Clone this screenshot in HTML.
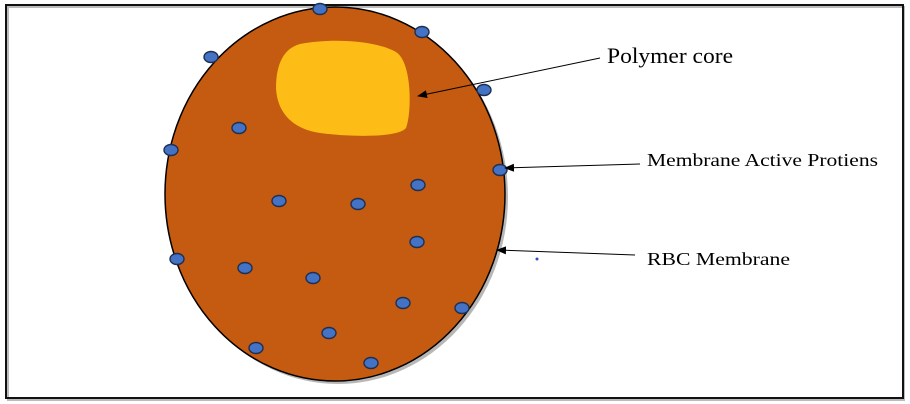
<!DOCTYPE html>
<html><head><style>
body{margin:0;background:#fff;}
svg{display:block}
text{font-family:"Liberation Serif",serif;fill:#000}
</style></head><body>
<svg width="910" height="404" viewBox="0 0 910 404">
<defs><marker id="a" markerWidth="10" markerHeight="8" refX="9" refY="4" orient="auto" markerUnits="userSpaceOnUse"><path d="M0,0 L10,4 L0,8 z" fill="#000"/></marker></defs>
<rect x="8" y="7" width="896" height="393" fill="none" stroke="#bbb" stroke-width="2"/>
<rect x="6" y="5" width="897" height="393" fill="none" stroke="#111" stroke-width="2"/>
<ellipse cx="338" cy="197" rx="170" ry="187" fill="#999" opacity="0.7"/>
<ellipse cx="335" cy="194" rx="170" ry="187" fill="#c55a11" stroke="#000" stroke-width="1.5"/>
<path d="M300,44 C330,38 375,40 396,52 C412,62 412,112 406,128 C398,138 350,137 320,133 C292,129 277,112 276,88 C276,62 285,48 300,44 z" fill="#fdbc16"/>
<g fill="#4472c4" stroke="#1f2f50" stroke-width="1.4">
<ellipse cx="320" cy="9" rx="7" ry="5.5"/><ellipse cx="422" cy="32" rx="7" ry="5.5"/><ellipse cx="211" cy="57" rx="7" ry="5.5"/><ellipse cx="484" cy="90" rx="7" ry="5.5"/><ellipse cx="239" cy="128" rx="7" ry="5.5"/><ellipse cx="171" cy="150" rx="7" ry="5.5"/><ellipse cx="500" cy="170" rx="7" ry="5.5"/><ellipse cx="418" cy="185" rx="7" ry="5.5"/><ellipse cx="279" cy="201" rx="7" ry="5.5"/><ellipse cx="358" cy="204" rx="7" ry="5.5"/><ellipse cx="417" cy="242" rx="7" ry="5.5"/><ellipse cx="177" cy="259" rx="7" ry="5.5"/><ellipse cx="245" cy="268" rx="7" ry="5.5"/><ellipse cx="313" cy="278" rx="7" ry="5.5"/><ellipse cx="403" cy="303" rx="7" ry="5.5"/><ellipse cx="462" cy="308" rx="7" ry="5.5"/><ellipse cx="329" cy="333" rx="7" ry="5.5"/><ellipse cx="256" cy="348" rx="7" ry="5.5"/><ellipse cx="371" cy="363" rx="7" ry="5.5"/>
</g>
<circle cx="537" cy="259" r="1.5" fill="#3050c0"/>
<g stroke="#000" stroke-width="1">
<line x1="600" y1="58" x2="418" y2="96" marker-end="url(#a)"/>
<line x1="640" y1="164" x2="505" y2="168" marker-end="url(#a)"/>
<line x1="635" y1="255" x2="497" y2="250" marker-end="url(#a)"/>
</g>
<text x="607" y="63" font-size="22" textLength="126" lengthAdjust="spacingAndGlyphs">Polymer core</text>
<text x="647" y="166" font-size="18" textLength="231" lengthAdjust="spacingAndGlyphs">Membrane Active Protiens</text>
<text x="647" y="265" font-size="18" textLength="143" lengthAdjust="spacingAndGlyphs">RBC Membrane</text>
</svg>
</body></html>
